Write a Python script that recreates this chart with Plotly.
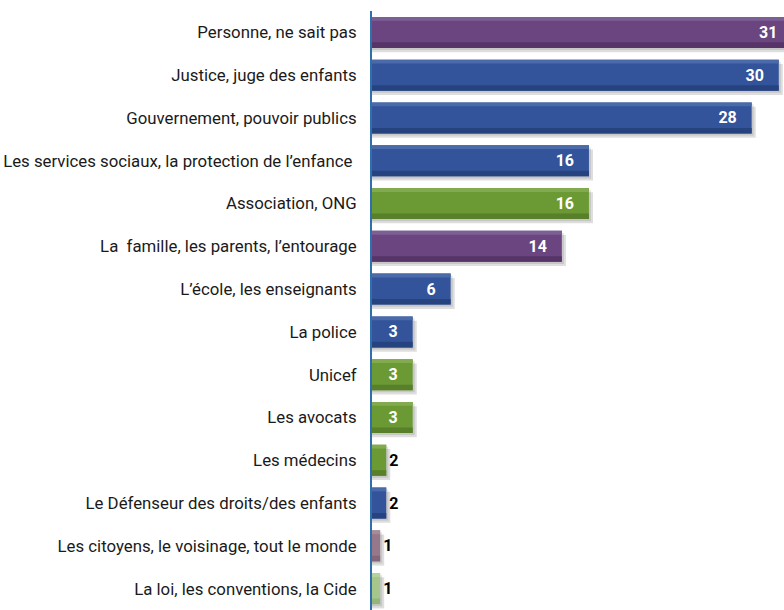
import plotly.graph_objects as go

categories = [
    "Personne, ne sait pas",
    "Justice, juge des enfants",
    "Gouvernement, pouvoir publics",
    "Les services sociaux, la protection de l’enfance ",
    "Association, ONG",
    "La  famille, les parents, l’entourage",
    "L’école, les enseignants",
    "La police",
    "Unicef",
    "Les avocats",
    "Les médecins",
    "Le Défenseur des droits/des enfants",
    "Les citoyens, le voisinage, tout le monde",
    "La loi, les conventions, la Cide",
]
# printed value labels
labels = [31, 30, 28, 16, 16, 14, 6, 3, 3, 3, 2, 2, 1, 1]
# bar lengths as drawn in the picture
bar_values = [31, 30, 28, 16, 16, 14, 5.8, 3, 3, 3, 1.05, 1.05, 0.6, 0.6]
groups = ["p", "b", "b", "b", "g", "p", "b", "b", "g", "g", "g", "b", "pl", "gl"]

main_col = {"p": "#6a4580", "b": "#33549a", "g": "#6b9a34", "pl": "#97788a", "gl": "#a6c78c"}
top_col = {"p": "#7d5f95", "b": "#4a6aaa", "g": "#82aa4e", "pl": "#a68c9a", "gl": "#b7d2a0"}
bot_col = {"p": "#563468", "b": "#27437f", "g": "#587f29", "pl": "#84667a", "gl": "#94b67a"}

W = 0.725
NB = "\u00a0"
texts = []
positions = []
for lab, v in zip(labels, bar_values):
    if v >= 3:
        texts.append(f"<b>{lab}</b>" + NB * 3)
        positions.append("inside")
    else:
        texts.append(f"<b>{lab}</b>")
        positions.append("outside")

fig = go.Figure()
# soft drop shadow
fig.add_trace(go.Bar(
    y=categories, x=[v + 0.3 for v in bar_values], orientation="h",
    width=W, offset=-W / 2 + 0.1,
    marker=dict(color="rgba(0,0,0,0.13)", line=dict(width=0)),
    hoverinfo="skip", showlegend=False,
))
fig.add_trace(go.Bar(
    y=categories, x=[v + 0.15 for v in bar_values], orientation="h",
    width=W, offset=-W / 2 + 0.05,
    marker=dict(color="rgba(0,0,0,0.10)", line=dict(width=0)),
    hoverinfo="skip", showlegend=False,
))
# main bars
fig.add_trace(go.Bar(
    y=categories, x=bar_values, orientation="h",
    width=W, offset=-W / 2,
    marker=dict(color=[main_col[g] for g in groups], line=dict(width=0)),
    showlegend=False,
))
# top highlight
fig.add_trace(go.Bar(
    y=categories, x=bar_values, orientation="h",
    width=0.09, offset=-W / 2,
    marker=dict(color=[top_col[g] for g in groups], line=dict(width=0)),
    hoverinfo="skip", showlegend=False,
))
# bottom shade
fig.add_trace(go.Bar(
    y=categories, x=bar_values, orientation="h",
    width=0.13, offset=W / 2 - 0.13,
    marker=dict(color=[bot_col[g] for g in groups], line=dict(width=0)),
    hoverinfo="skip", showlegend=False,
))
# value labels
fig.add_trace(go.Bar(
    y=categories, x=bar_values, orientation="h",
    width=W, offset=-W / 2,
    marker=dict(color="rgba(0,0,0,0)", line=dict(width=0)),
    text=texts, textposition=positions, insidetextanchor="end",
    insidetextfont=dict(color="white", size=16, family="Roboto"),
    outsidetextfont=dict(color="black", size=16, family="Roboto"),
    constraintext="none", cliponaxis=False,
    hoverinfo="skip", showlegend=False,
))

fig.update_layout(
    width=793, height=610,
    margin=dict(l=372, r=0, t=11, b=0),
    paper_bgcolor="white", plot_bgcolor="white",
    barmode="overlay",
    font=dict(family="Roboto", size=16, color="#1a1a1a"),
    xaxis=dict(range=[0, 31.05], visible=False, showgrid=False, zeroline=False, fixedrange=True),
    yaxis=dict(
        categoryorder="array", categoryarray=categories, autorange="reversed",
        showgrid=False, zeroline=False, ticks="", ticklabelstandoff=10,
        showline=True, linecolor="#2f6fae", linewidth=2,
        tickfont=dict(family="Roboto", size=16.8, color="#1a1a1a"),
    ),
)

fig.write_html(
    "out.html",
    config={"displayModeBar": False},
    post_script="document.body.style.margin='0';document.body.style.overflow='hidden';",
)
